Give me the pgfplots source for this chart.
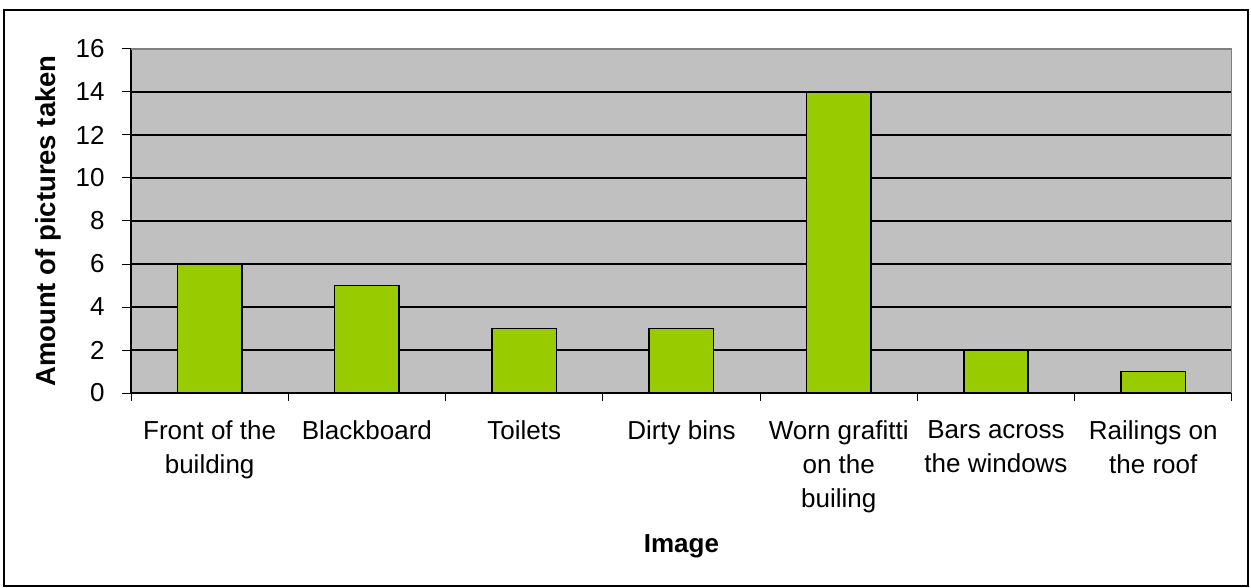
\documentclass[border=0pt]{standalone}
\usepackage{fontspec}
\setmainfont{Liberation Sans}
\usepackage{pgfplots}
\pgfplotsset{compat=1.18}
\definecolor{plotgray}{RGB}{192,192,192}
\definecolor{bargreen}{RGB}{153,204,0}
\definecolor{bordergray}{RGB}{128,128,128}

\begin{document}
\begin{tikzpicture}
\useasboundingbox (0,0) rectangle (1251pt,587pt);
\draw[line width=2pt] (3.5pt,1pt) rectangle (1248pt,577pt);
\begin{axis}[
    at={(131pt,194pt)}, anchor=south west,
    scale only axis, width=1101pt, height=344pt,
    ybar, bar width=0.41,
    xmin=-0.5, xmax=6.5, ymin=0, ymax=16,
    ytick={0,2,...,16},
    xtick={0,...,6},
    xticklabels={Front of the\\building, Blackboard, Toilets, Dirty bins,
                 Worn grafitti\\on the\\builing, Bars across\\the windows, Railings on\\the roof},
    minor xtick={-0.5,0.5,...,6.5},
    major x tick style={draw=none},
    minor x tick style={black, line width=1pt},
    ytick style={black, line width=1pt},
    tick align=outside,
    major tick length=9pt, minor tick length=8pt,
    axis x line*=bottom, axis y line*=left,
    axis line style={black, line width=1.5pt},
    axis background/.style={fill=plotgray},
    ymajorgrids, grid style={black, line width=1.2pt},
    /pgf/number format/assume math mode=true,
    yticklabel style={font=\fontsize{26}{30}\selectfont, xshift=-14pt},
    xticklabel style={font=\fontsize{26}{34}\selectfont, align=center, yshift=-15pt},
    xlabel={Image}, ylabel={Amount of pictures taken},
    xlabel style={font=\fontsize{26}{30}\selectfont\bfseries,
                  at={(axis description cs:0.5,-0.445)}, anchor=center},
    ylabel style={font=\fontsize{27.5}{30}\selectfont\bfseries,
                  at={(axis description cs:-0.0754,0.5)}, anchor=center, rotate=0},
]
\addplot[fill=bargreen, draw=black, line width=1.5pt] coordinates {
    (0,6) (1,5) (2,3) (3,3) (4,14) (5,2) (6,1)
};
\draw[bordergray, line width=1.5pt] (rel axis cs:0,1) -- (rel axis cs:1,1) -- (rel axis cs:1,0);
\end{axis}
\end{tikzpicture}
\end{document}
